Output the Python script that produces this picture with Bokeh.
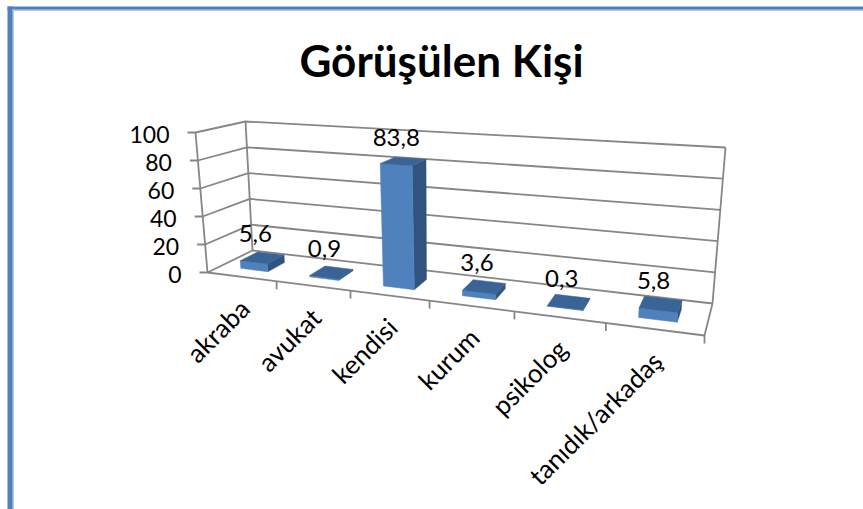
from bokeh.plotting import figure
from bokeh.models import Range1d
from bokeh.embed import file_html
from bokeh.resources import INLINE

title = "Görüşülen Kişi"
categories = ["akraba", "avukat", "kendisi", "kurum", "psikolog", "tanıdık/arkadaş"]
values = [5.6, 0.9, 83.8, 3.6, 0.3, 5.8]
value_labels = ["5,6", "0,9", "83,8", "3,6", "0,3", "5,8"]
y_ticks = [0, 20, 40, 60, 80, 100]

W, H = 863, 509
FONT = "Lato"
GRID = "#868686"
FRONT, SIDE, TOP = "#4f81bd", "#30537f", "#3a6496"
BORDER = "#4f81bd"
LW = 1.8

# projected box corners (screen position of the 3D chart box)
FL0, BL0, FR0, BR0 = (207, 272), (252, 250), (704, 335), (712, 303)
FL1, BL1, FR1, BR1 = (195, 132), (245, 121), (712, 166), (725, 147)
PERSP = 1.238


def mix(a, b, t):
    return (a[0] + (b[0] - a[0]) * t, a[1] + (b[1] - a[1]) * t)


def proj(cat, depth, val):
    """cat in category units (0..n), depth 0..1, val 0..100 -> screen."""
    s = cat / len(categories)
    t = val / 100
    left = mix(mix(FL0, BL0, depth), mix(FL1, BL1, depth), t)
    right = mix(mix(FR0, BR0, depth), mix(FR1, BR1, depth), t)
    f = s / (s + (1 - s) * PERSP)
    return mix(left, right, f)


def face(pts):
    return [q[0] for q in pts], [q[1] for q in pts]


p = figure(width=W, height=H, x_range=Range1d(0, W), y_range=Range1d(H, 0),
           output_backend="svg", toolbar_location=None, min_border=0,
           outline_line_color=None, background_fill_color="white",
           border_fill_color="white")
p.axis.visible = False
p.grid.visible = False

# outer frame
p.quad(left=[7, 7], right=[12.5, W], top=[6, 6], bottom=[H, 9.5],
       fill_color=BORDER, line_color=None)
p.quad(left=[12, 12], right=[13.5, W], top=[9, 9], bottom=[H, 10.5],
       fill_color="#b5cbe6", line_color=None)

n = len(categories)
# gridlines on the walls
for v in y_ticks:
    a, b, c = proj(0, 0, v), proj(0, 1, v), proj(n, 1, v)
    p.line([a[0] - 8, a[0], b[0], c[0]], [a[1], a[1], b[1], c[1]], line_color=GRID, line_width=LW)
    p.text([a[0] - 26], [a[1] + 1.5], text=[str(v)], text_align="right", text_baseline="middle",
           text_font={"value": FONT}, text_font_size="23px", text_color="black")

# walls' verticals and floor edges
for pts in ([proj(0, 0, 0), proj(0, 0, 100)],
            [proj(0, 1, 0), proj(0, 1, 100)],
            [proj(0, 0, 0), proj(n, 0, 0), proj(n, 1, 0), proj(n, 1, 100)]):
    xs, ys = face(pts)
    p.line(xs, ys, line_color=GRID, line_width=LW)

# category ticks and labels
for i, cat in enumerate(categories):
    a = proj(i + 1, 0, 0)
    p.line([a[0], a[0]], [a[1], a[1] + 8], line_color=GRID, line_width=LW)
    m = proj(i + 0.5, 0, 0)
    p.text([m[0] + 3], [m[1] + 27], text=[cat], angle=0.785, text_align="right",
           text_baseline="middle", text_font={"value": FONT}, text_font_size="26px",
           text_color="black")

# bars
for i, v in enumerate(values):
    c0, c1, d0, d1 = i + 0.3, i + 0.7, 0.3, 0.7
    fl0, fr0, br0 = proj(c0, d0, 0), proj(c1, d0, 0), proj(c1, d1, 0)
    fl1, fr1, br1, bl1 = proj(c0, d0, v), proj(c1, d0, v), proj(c1, d1, v), proj(c0, d1, v)
    xs, ys = face([fr0, br0, br1, fr1])
    p.patch(xs, ys, fill_color=SIDE, line_color=SIDE, line_width=0.5)
    xs, ys = face([fl0, fr0, fr1, fl1])
    p.patch(xs, ys, fill_color=FRONT, line_color=FRONT, line_width=0.5)
    xs, ys = face([fl1, fr1, br1, bl1])
    p.patch(xs, ys, fill_color=TOP, line_color=TOP, line_width=0.5)
    c = proj(i + 0.5, 0.5, v)
    p.text([c[0] - 7], [c[1] - 24], text=[value_labels[i]], text_align="center",
           text_baseline="middle", text_font={"value": FONT}, text_font_size="24px",
           text_color="black")

p.text([441], [59], text=[title], text_align="center", text_baseline="middle",
       text_font={"value": FONT}, text_font_style="bold", text_font_size="44px",
       text_color="black")

open("out.html", "w").write(file_html(p, INLINE))
